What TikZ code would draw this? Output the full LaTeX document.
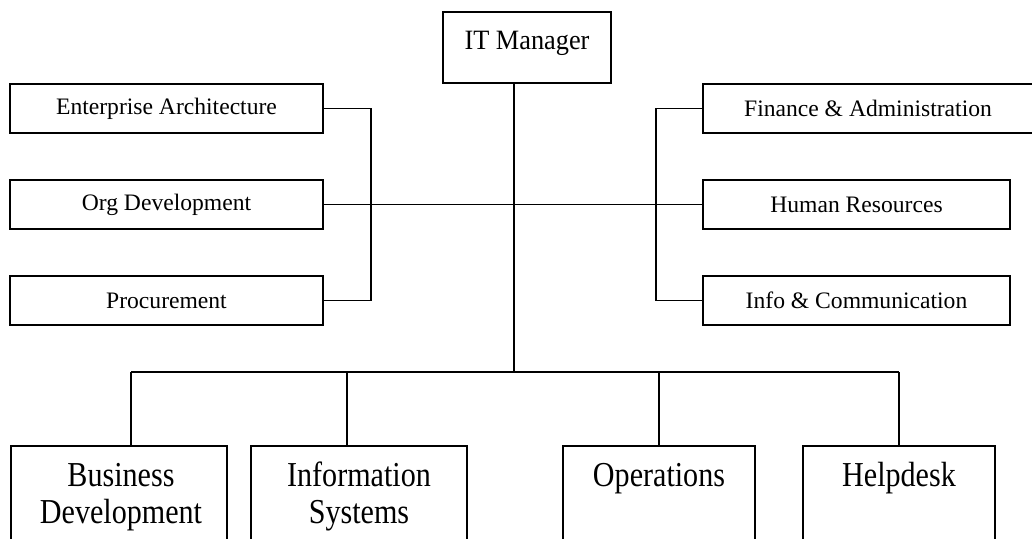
\documentclass[tikz,border=0pt]{standalone}
\usepackage{fontspec}
\setmainfont{Liberation Serif}
\newfontfamily\condfont[FakeStretch=0.86]{Liberation Serif}
\newfontfamily\topfont[FakeStretch=0.94]{Liberation Serif}
\begin{document}
\begin{tikzpicture}[x=1pt,y=-1pt,
  smallbox/.style={draw, line width=1.8pt, rectangle, inner sep=0pt, minimum height=49pt,
    font=\fontsize{23.6}{28}\selectfont},
  topbox/.style={draw, line width=1.8pt, rectangle, inner sep=0pt},
  bigbox/.style={draw, line width=1.8pt, rectangle, inner sep=0pt, minimum width=216pt,
    minimum height=140pt, anchor=north},
  bigtext/.style={inner sep=0pt, anchor=base, font=\condfont\fontsize{35}{37}\selectfont},
  link/.style={draw, line width=1.8pt, line join=miter}]
\useasboundingbox (0,0) rectangle (1032,538);
\clip (0,0) rectangle (1032,538);
% top
\node[topbox, minimum width=168pt, minimum height=71pt] (itm) at (527,47.5) {};
\node[inner sep=0pt, anchor=base, font=\topfont\fontsize{28}{30}\selectfont] (itmt) at (527,49.3) {IT Manager};
% left column
\node[smallbox, minimum width=313pt] (ea) at (166.5,108.5) {Enterprise Architecture};
\node[smallbox, minimum width=313pt] (od) at (166.5,204.5) {Org Development};
\node[smallbox, minimum width=313pt] (pr) at (166.5,300.5) {Procurement};
% right column
\node[smallbox, minimum width=330pt] (fa) at (868,108.5) {Finance \& Administration};
\node[smallbox, minimum width=307pt] (hr) at (856.5,204.5) {Human Resources};
\node[smallbox, minimum width=307pt] (ic) at (856.5,300.5) {Info \& Communication};
% bottom boxes
\node[bigbox] (bd) at (119,445) {};
\node[bigbox] (is) at (359,445) {};
\node[bigbox, minimum width=192pt] (ops) at (659,445) {};
\node[bigbox, minimum width=192pt] (hd) at (899,445) {};
\node[bigtext] (bdt) at (121,486) {\begin{tabular}[t]{@{}c@{}}Business\\Development\end{tabular}};
\node[bigtext] (ist) at (359,486) {\begin{tabular}[t]{@{}c@{}}Information\\Systems\end{tabular}};
\node[bigtext] (opst) at (659,486) {Operations};
\node[bigtext] (hdt) at (899,486) {Helpdesk};
% coordinates
\coordinate (spine) at (514,372);
\coordinate (busL) at (131,372);
\coordinate (busIS) at (347,372);
\coordinate (busR) at (899,372);
\coordinate (lb) at (371,0);
\coordinate (rb) at (656,0);
% connectors
\draw[link] (itm.south -| spine) -- (spine);
\draw[link] (od.east) -- (hr.west);
\draw[link] (ea.east) -- (ea.east -| lb) -- (pr.east -| lb) -- (pr.east);
\draw[link] (fa.west) -- (fa.west -| rb) -- (ic.west -| rb) -- (ic.west);
\draw[link] (busL) -- (busR);
\draw[link] (busL) -- (busL |- bd.north);
\draw[link] (busIS) -- (busIS |- is.north);
\draw[link] (ops.north |- spine) -- (ops.north);
\draw[link] (hd.north |- spine) -- (hd.north);
\end{tikzpicture}
\end{document}
